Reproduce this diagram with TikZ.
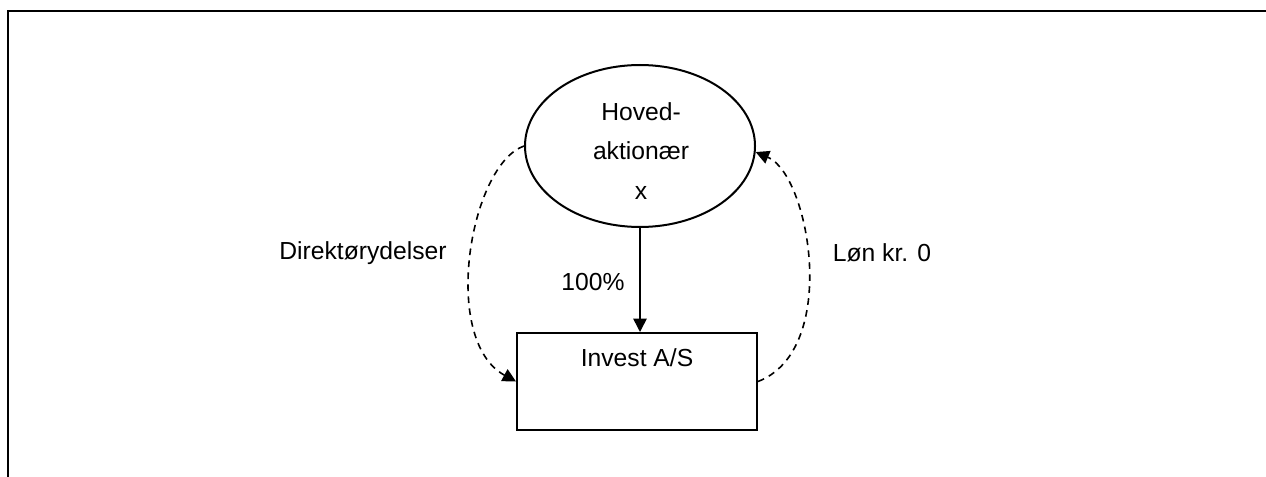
\documentclass[tikz,border=0pt]{standalone}
\usepackage{fontspec}
\setmainfont{Liberation Sans}
\usetikzlibrary{arrows.meta,shapes.geometric}
\begin{document}
\begin{tikzpicture}[x=0.75pt,y=-0.75pt,
  lbl/.style={font=\fontsize{18.5}{29.5}\selectfont, inner sep=0pt},
  shape line/.style={line width=1.5pt},
  tip/.style={-{Triangle[length=10pt,width=10pt]}},
  flow/.style={line width=1.2pt, dash pattern=on 5pt off 4pt, tip}]
  \useasboundingbox (0,0) rectangle (1266,477);
  % frame
  \draw[line width=1.8pt] (8,477) -- (8,11) -- (1266,11);
  % owner and company
  \node[shape line, draw, ellipse, minimum width=230*0.75pt, minimum height=162*0.75pt,
        inner sep=0pt] (hov) at (640,146) {};
  \node[lbl, align=center] (hovlbl) at (641,151) {Hoved-\\aktionær\\x};
  \node[shape line, draw, rectangle, minimum width=240*0.75pt, minimum height=97*0.75pt,
        inner sep=0pt] (inv) at (637,381.5) {};
  \node[lbl, anchor=base] (invlbl) at (637,366) {Invest A/S};
  % ownership
  \draw[line width=1.2pt, tip] (hov.south) -- (inv.north -| hov.south)
    node[pos=0.52, left=11pt, lbl] (pct) {100\%};
  % services and salary
  \draw[flow] (hov.180) .. controls (470,165) and (440,340) .. (inv.west);
  \draw[flow] (inv.east) .. controls (840,350) and (810,175) .. (hov.357);
  \node[lbl] (dir) at (363,253) {Direktørydelser};
  \node[lbl] (lon) at (882,253) {Løn kr. 0};
\end{tikzpicture}
\end{document}
